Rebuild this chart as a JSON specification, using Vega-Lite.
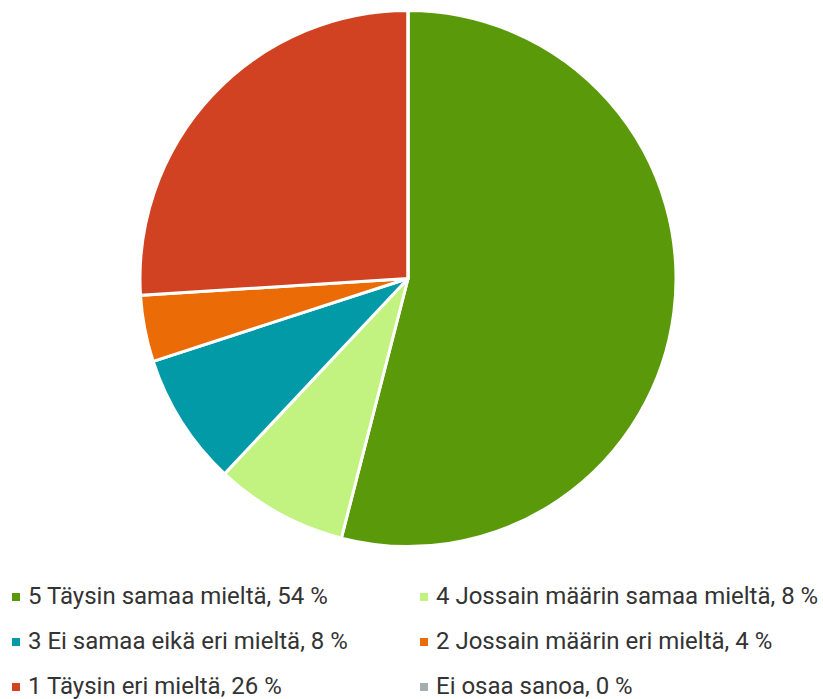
{
  "$schema": "https://vega.github.io/schema/vega-lite/v6.json",
  "width": 816,
  "height": 557,
  "autosize": {"type": "none"},
  "padding": {"left": 0, "top": 0, "right": 7, "bottom": 142},
  "background": "white",
  "config": {"view": {"stroke": null}, "font": "Roboto"},
  "data": {
    "values": [
      {"label": "5 Täysin samaa mieltä, 54 %", "value": 54, "ord": 1},
      {"label": "4 Jossain määrin samaa mieltä, 8 %", "value": 8, "ord": 2},
      {"label": "3 Ei samaa eikä eri mieltä, 8 %", "value": 8, "ord": 3},
      {"label": "2 Jossain määrin eri mieltä, 4 %", "value": 4, "ord": 4},
      {"label": "1 Täysin eri mieltä, 26 %", "value": 26, "ord": 5},
      {"label": "Ei osaa sanoa, 0 %", "value": 0, "ord": 6}
    ]
  },
  "mark": {"type": "arc", "outerRadius": 268, "stroke": "white", "strokeWidth": 3},
  "encoding": {
    "theta": {"field": "value", "type": "quantitative", "stack": true},
    "order": {"field": "ord", "type": "quantitative"},
    "color": {
      "field": "label",
      "type": "nominal",
      "scale": {
        "domain": ["5 Täysin samaa mieltä, 54 %", "4 Jossain määrin samaa mieltä, 8 %", "3 Ei samaa eikä eri mieltä, 8 %", "2 Jossain määrin eri mieltä, 4 %", "1 Täysin eri mieltä, 26 %", "Ei osaa sanoa, 0 %"],
        "range": ["#5a9a0a", "#c2f27f", "#029aa7", "#eb6c06", "#d04222", "#a6adb1"]
      },
      "legend": {
        "title": null,
        "orient": "none",
        "direction": "horizontal",
        "legendX": 4,
        "legendY": 585,
        "padding": 0,
        "columns": 2,
        "columnPadding": 64,
        "rowPadding": 21,
        "symbolType": "square",
        "symbolSize": 64,
        "symbolStrokeWidth": 0,
        "labelFont": "Roboto",
        "labelFontSize": 24,
        "labelColor": "#333333",
        "labelOffset": 0,
        "labelLimit": 500
      }
    }
  }
}
